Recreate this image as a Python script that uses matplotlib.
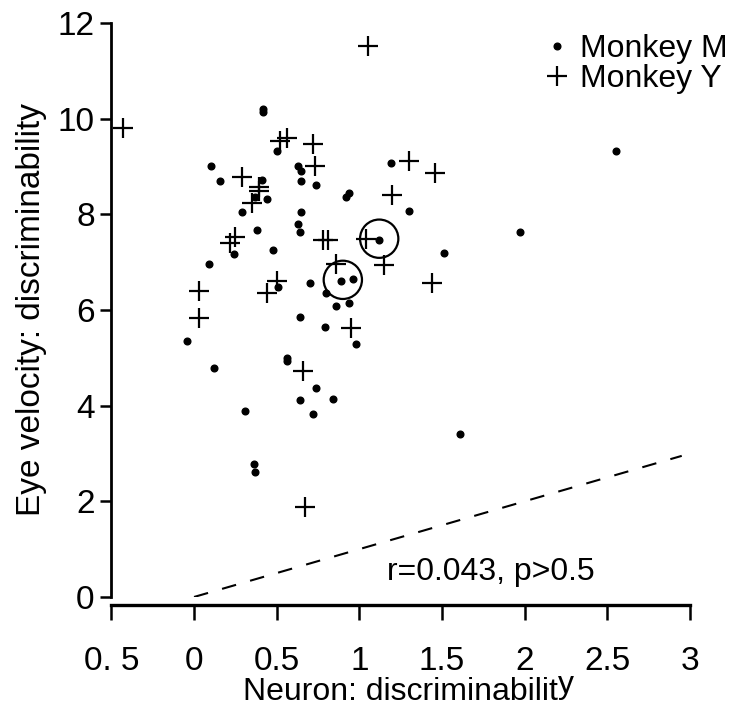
import matplotlib
matplotlib.use("Agg")
import matplotlib.pyplot as plt
from matplotlib.lines import Line2D

plt.rcParams['font.family'] = ['Liberation Sans', 'DejaVu Sans']

# Monkey M (dots)
monkey_m_x = [0.42, 0.42, 0.50, 0.10, 0.16, 0.41, 0.63, 0.65, 0.65, 0.74,
              0.44, 0.37, 0.29, 0.65, 0.63, 0.64, 0.38, 0.24, 0.48, 0.09,
              0.51, 0.70, 1.19, 0.94, 0.92, 1.30, 1.12, 1.51, 0.89, 0.96,
              0.80, 0.86, 0.94, 0.64, 0.79, 0.98, -0.04, 0.12, 0.56, 0.56,
              0.74, 0.64, 0.84, 0.72, 0.31, 0.36, 0.37, 1.61, 1.97, 2.55]
monkey_m_y = [10.21, 10.13, 9.32, 9.00, 8.70, 8.71, 9.00, 8.90, 8.69, 8.62,
              8.33, 8.36, 8.05, 8.04, 7.80, 7.62, 7.68, 7.18, 7.25, 6.96,
              6.49, 6.56, 9.08, 8.45, 8.36, 8.06, 7.47, 7.20, 6.60, 6.65,
              6.35, 6.09, 6.14, 5.86, 5.64, 5.29, 5.36, 4.79, 4.99, 4.94,
              4.37, 4.12, 4.14, 3.83, 3.89, 2.78, 2.61, 3.41, 7.62, 9.33]

# Monkey Y (crosses)
monkey_y_x = [-0.43, 1.05, 0.56, 0.52, 0.72, 0.73, 0.29, 0.39, 0.39, 0.35,
              0.25, 0.22, 0.50, 0.44, 0.03, 0.03, 1.30, 1.46, 1.20, 0.78,
              0.81, 1.04, 1.15, 0.86, 1.44, 0.95, 0.66, 0.67]
monkey_y_y = [9.81, 11.51, 9.60, 9.54, 9.47, 9.00, 8.78, 8.57, 8.49, 8.24,
              7.52, 7.41, 6.60, 6.35, 6.40, 5.83, 9.12, 8.86, 8.41, 7.47,
              7.47, 7.49, 6.95, 6.97, 6.56, 5.62, 4.73, 1.89]

# circled example cells
circled_x = [1.12, 0.90]
circled_y = [7.49, 6.63]

# unity line
diag = [0.0, 2.95]

xticks = [-0.5, 0, 0.5, 1, 1.5, 2, 2.5, 3]
xticklabels = ['0. 5', '0', '0.5', '1', '1.5', '2', '2.5', '3']
yticks = [0, 2, 4, 6, 8, 10, 12]

fig = plt.figure(figsize=(7.47, 7.09), dpi=100)
ax = fig.add_axes([0.1491, 0.1580, 0.7746, 0.8096])

ax.plot(monkey_m_x, monkey_m_y, 'o', color='black', markersize=4.8,
        linestyle='none')
ax.plot(monkey_y_x, monkey_y_y, '+', color='black', markersize=14,
        markeredgewidth=1.6, linestyle='none')
ax.scatter(circled_x, circled_y, s=760, facecolors='none',
           edgecolors='black', linewidths=1.6)
ax.plot(diag, diag, color='black', linewidth=1.5, linestyle=(0, (7, 7)))

ax.text(1.17, 0.2, 'r=0.043, p>0.5', fontsize=23, va='bottom', ha='left')

ax.set_xlim(-0.5, 3.0)
ax.set_ylim(0, 12)
ax.set_xticks(xticks)
ax.set_xticklabels(xticklabels)
ax.set_yticks(yticks)

ax.spines['top'].set_visible(False)
ax.spines['right'].set_visible(False)
ax.spines['bottom'].set_position(('outward', 6))
ax.spines['left'].set_linewidth(2.0)
ax.spines['bottom'].set_linewidth(2.4)
ax.tick_params(axis='x', direction='out', length=11, width=1.8,
               labelsize=24, pad=18)
ax.tick_params(axis='y', direction='out', length=8, width=1.8,
               labelsize=24, pad=4)

ax.set_ylabel('Eye velocity: discriminability', fontsize=24, labelpad=8)
xl = ax.set_xlabel('Neuron: discriminabilit', fontsize=23, labelpad=0)

handles = [Line2D([], [], marker='o', color='black', markersize=4.8,
                  linestyle='none'),
           Line2D([], [], marker='+', color='black', markersize=14,
                  markeredgewidth=1.6, linestyle='none')]
fig.legend(handles, ['Monkey M', 'Monkey Y'], loc='upper right',
           bbox_to_anchor=(0.995, 0.975), frameon=False, fontsize=23,
           handlelength=0.8, handletextpad=0.3, labelspacing=0.0,
           borderpad=0.0)

# raised final "y" of the x label
fig.canvas.draw()
bb = xl.get_window_extent()
fig.text(bb.x1 / fig.bbox.width, (bb.y0 + 7) / fig.bbox.height, 'y',
         fontsize=23, ha='left', va='bottom')

fig.savefig('out.png', dpi=100)
